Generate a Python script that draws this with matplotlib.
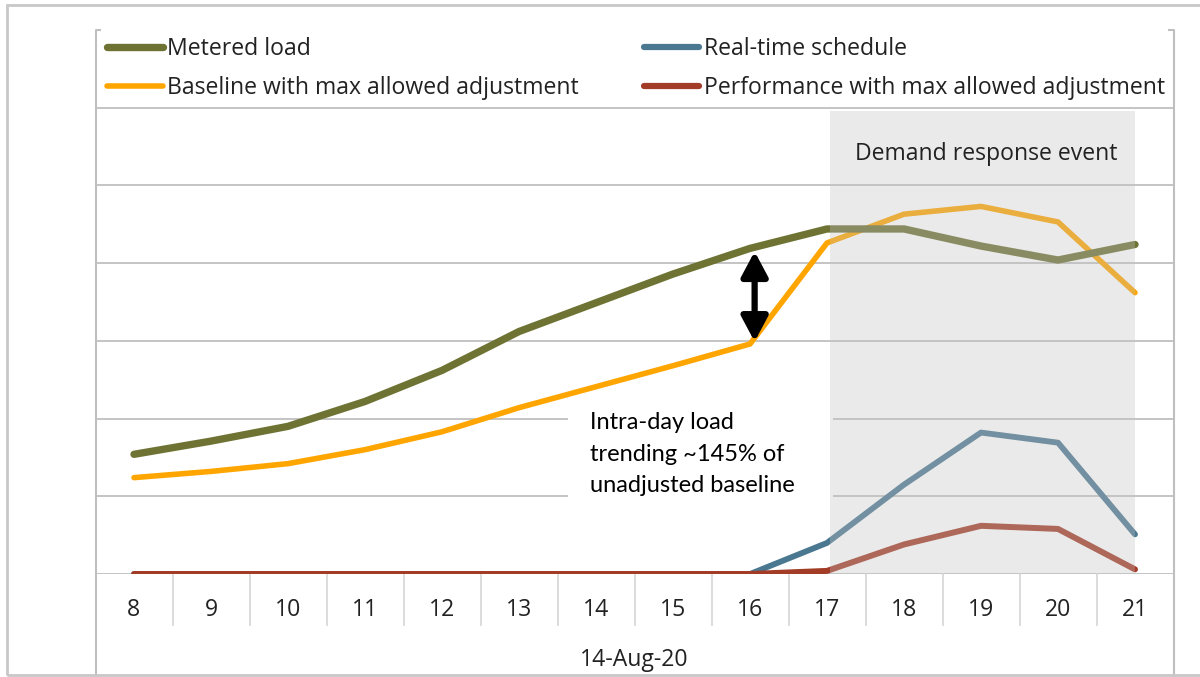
import matplotlib
matplotlib.use('Agg')
import matplotlib.pyplot as plt
import numpy as np
from matplotlib.lines import Line2D
from matplotlib.patches import Rectangle

# Hourly values for 14-Aug-20 (hour ending 8..21)
hours = [8, 9, 10, 11, 12, 13, 14, 15, 16, 17, 18, 19, 20, 21]
metered_load = [1.54, 1.71, 1.90, 2.22, 2.62, 3.12, 3.49, 3.86, 4.19, 4.44, 4.44, 4.22, 4.04, 4.24]
baseline_adj = [1.24, 1.32, 1.42, 1.60, 1.83, 2.14, 2.41, 2.68, 2.96, 4.26, 4.63, 4.73, 4.53, 3.62]
realtime_sched = [0, 0, 0, 0, 0, 0, 0, 0, 0, 0.40, 1.15, 1.82, 1.69, 0.51]
performance_adj = [0, 0, 0, 0, 0, 0, 0, 0, 0, 0.04, 0.38, 0.62, 0.58, 0.06]
day_label = '14-Aug-20'
event_start, event_end = 17, 21

plt.rcParams['font.family'] = ['Open Sans', 'DejaVu Sans']

c_olive = '#6E7334'
c_orange = '#FFA500'
c_blue = '#4B7891'
c_red = '#A33C27'
c_grid = '#BFBFBF'
c_text = '#222222'
fs = 16.6

fig = plt.figure(figsize=(12, 6.77), dpi=100)
ax = fig.add_axes([95.5 / 1200, 103 / 677, 1078 / 1200, 544 / 677])
ax.set_xlim(7.5, 21.5)
ax.set_ylim(0, 7)

# outer chart frame
fig.patches.append(Rectangle((7 / 1200, 2 / 677), 1.2, 670 / 677, transform=fig.transFigure,
                             fill=False, edgecolor='#C8C8C8', lw=2))

# horizontal gridlines (0 doubles as the category axis)
for v in range(0, 7):
    ax.axhline(v, color=c_grid, lw=1.3, zorder=1)

for s in ax.spines.values():
    s.set_visible(False)

# left / right frame lines running down through the category table
ax.plot([0.004, 0, 0], [1, 1, -0.19], transform=ax.transAxes, color=c_grid, lw=1.5, clip_on=False)
ax.plot([0.996, 1, 1], [1, 1, -0.19], transform=ax.transAxes, color=c_grid, lw=1.5, clip_on=False)

# category cell separators
trans = ax.get_xaxis_transform()
for h in hours[:-1]:
    ax.plot([h + 0.5, h + 0.5], [0, -0.094], transform=trans, color='#D9D9D9', lw=1.3, clip_on=False)

ax.set_xticks(hours)
ax.set_xticklabels([str(h) for h in hours], fontsize=fs, color=c_text)
ax.tick_params(axis='x', length=0, pad=17)
ax.set_yticks([])
ax.text(0.5, -0.158, day_label, transform=ax.transAxes, ha='center', va='center',
        fontsize=fs, color=c_text)

# series
kw = dict(solid_capstyle='round', solid_joinstyle='round')
ax.plot(hours, realtime_sched, color=c_blue, lw=4.2, zorder=4, **kw)
ax.plot(hours, performance_adj, color=c_red, lw=4.3, zorder=4, **kw)
ax.plot(hours, baseline_adj, color=c_orange, lw=4.0, zorder=4, **kw)
ax.plot(hours, metered_load, color=c_olive, lw=5.3, zorder=4, **kw)

# demand response event shading drawn over the lines
ax.add_patch(Rectangle((event_start + 0.04, 0), event_end - event_start - 0.04, 5.96,
                       facecolor='#C2C2C2', alpha=0.33, edgecolor='none', zorder=5))
ax.text(19.07, 5.41, 'Demand response event', ha='center', va='center', fontsize=fs,
        color=c_text, zorder=7)

# call-out box
ax.add_patch(Rectangle((13.64, 0.67), 3.44, 1.64, facecolor='white', edgecolor='none', zorder=3))
ax.text(13.92, 2.08, 'Intra-day load\ntrending ~145% of\nunadjusted baseline', ha='left', va='top',
        fontsize=17, color='black', linespacing=1.62, zorder=7, family=['Lato', 'DejaVu Sans'])

# gap arrow between metered load and baseline at hour 16
ax.annotate('', xy=(16.06, 4.15), xytext=(16.06, 2.99),
            arrowprops=dict(arrowstyle='<|-|>,head_length=1.5,head_width=0.8', lw=4.5,
                            color='black', shrinkA=0, shrinkB=0), zorder=8)

handles = [
    Line2D([], [], color=c_olive, lw=5.3, solid_capstyle='round'),
    Line2D([], [], color=c_orange, lw=4.0, solid_capstyle='round'),
    Line2D([], [], color=c_blue, lw=4.5, solid_capstyle='round'),
    Line2D([], [], color=c_red, lw=4.5, solid_capstyle='round'),
]
labels = ['Metered load', 'Baseline with max allowed adjustment',
          'Real-time schedule', 'Performance with max allowed adjustment']
ax.legend(handles, labels, ncol=2, mode='expand', loc='upper left',
          bbox_to_anchor=(0.011, 0.80, 0.981, 0.187), frameon=False, fontsize=fs,
          handlelength=2.4, handletextpad=0.2, labelspacing=0.65, borderpad=0,
          borderaxespad=0, labelcolor=c_text)

fig.savefig('out.png', dpi=100)
